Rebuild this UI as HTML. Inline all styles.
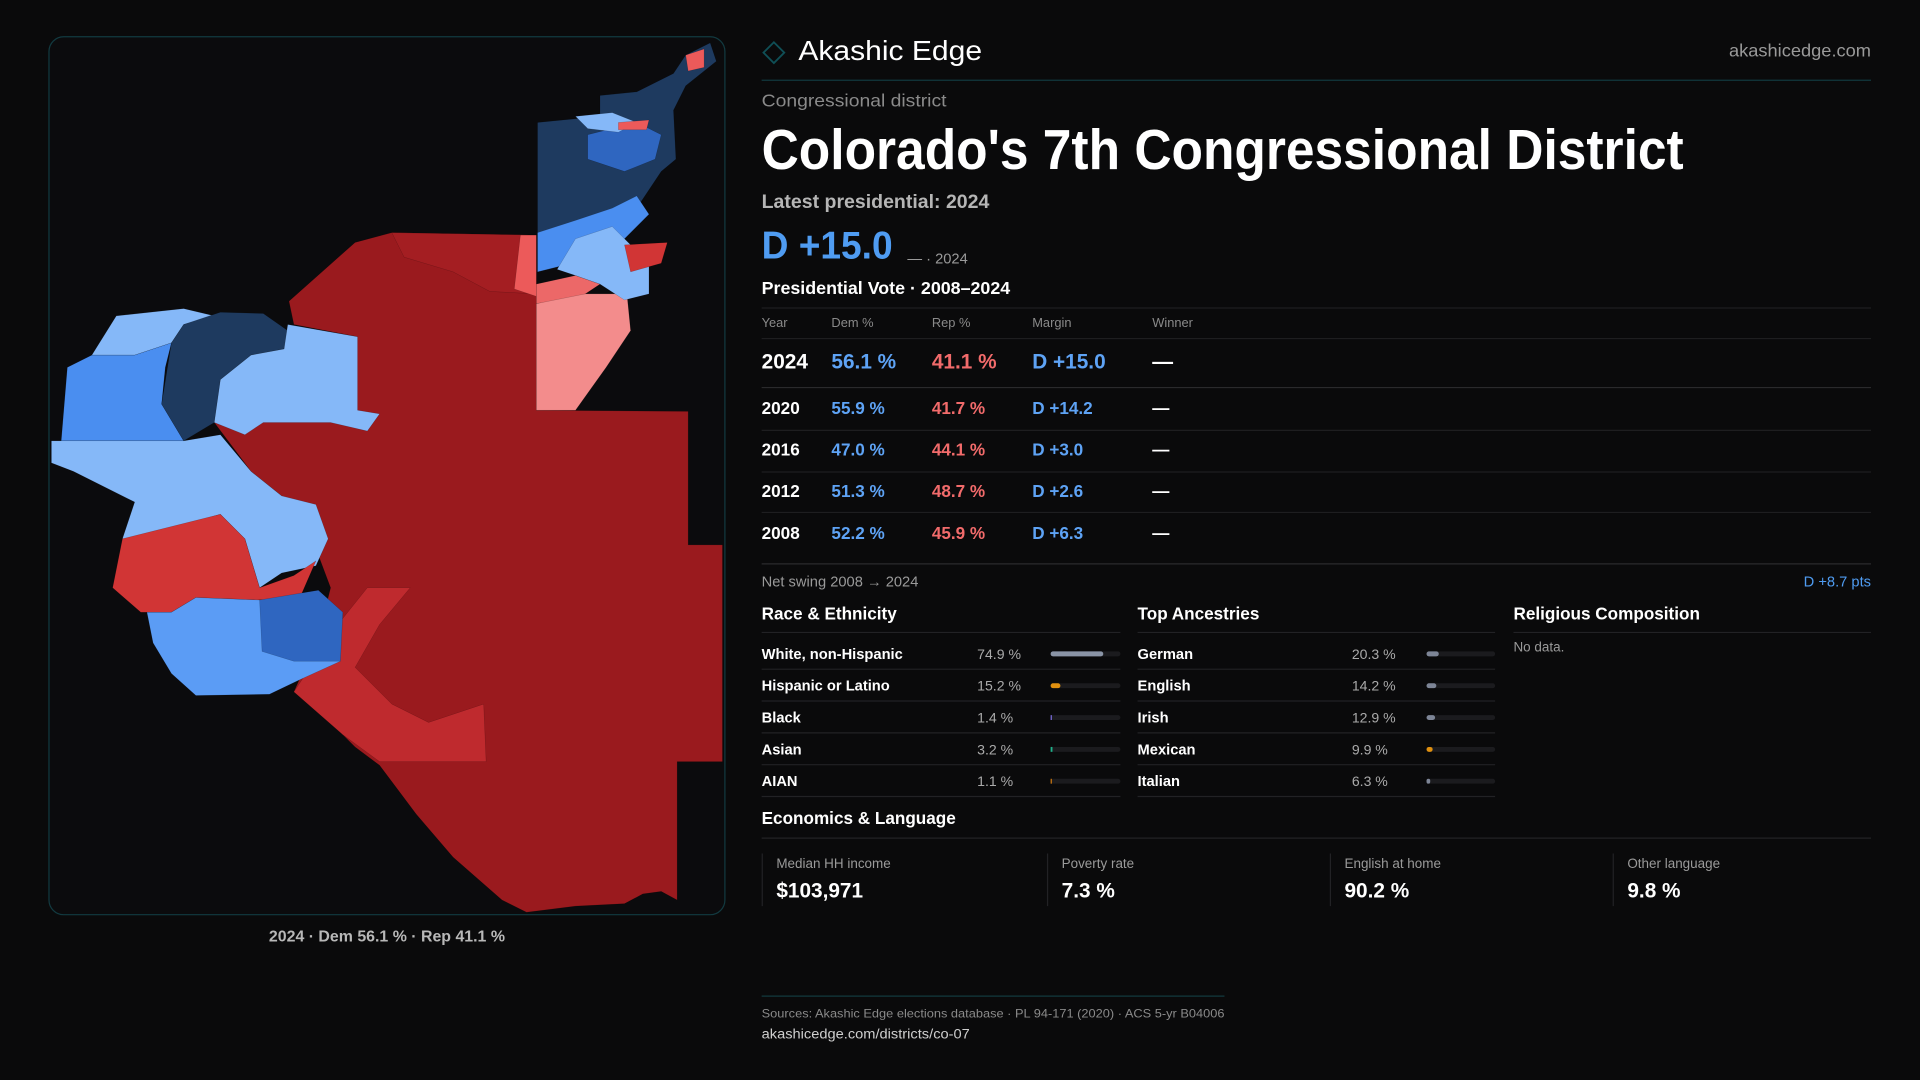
<!DOCTYPE html>
<html><head><meta charset="utf-8"><style>html,body{margin:0;padding:0;background:#0a0a0b;}svg{display:block}text{font-family:"Liberation Sans",sans-serif}</style></head>
<body>
<svg width="1920" height="1080" viewBox="0 0 1568 882" xmlns="http://www.w3.org/2000/svg">
<rect width="1568" height="882" fill="#0a0a0b"/>
<rect x="40" y="30" width="552" height="717" rx="12" fill="#0b0b0d" stroke="#123a40" stroke-width="1"/>
<!-- map -->
<g stroke="rgba(0,0,0,0.25)" stroke-width="0.4">
<polygon fill="#9a1a1e" points="236,246 290,198 320,190 438,192 438,335 562,336 562,445 590,445 590,622 553,622 553,735 540,728 525,730 510,738 470,740 430,745 410,735 370,700 340,665 310,625 290,610 260,580 240,565 260,520 270,480 255,440 230,405 205,385 175,345 195,330 240,330 280,310 292,275 240,265"/>
<polygon fill="#a41e22" points="320,190 438,192 438,240 400,238 370,222 330,210"/>
<polygon fill="#bf2a2e" points="240,565 280,505 300,480 335,480 310,510 290,545 320,575 350,590 395,575 397,622 310,622 280,600"/>
<polygon fill="#ec5a5a" points="425,192 438,192 438,242 420,236"/>
<polygon fill="#f38c8c" points="438,248 470,240 512,240 515,270 495,300 470,335 438,335"/>
<polygon fill="#ec6868" points="438,232 470,225 490,232 478,240 438,248"/>
<polygon fill="#1e3a5f" points="439,100 490,95 490,78 520,75 550,60 560,45 580,35 585,50 560,70 550,90 552,130 540,140 520,170 510,190 480,205 439,212"/>
<polygon fill="#4a8ef0" points="439,190 470,180 500,170 520,160 530,175 510,195 480,210 455,218 439,222"/>
<polygon fill="#85b8f8" points="470,195 500,185 515,200 530,215 530,240 510,245 490,232 470,225 455,220"/>
<polygon fill="#2f66c0" points="480,110 520,100 540,110 535,130 510,140 480,130"/>
<polygon fill="#85b8f8" points="470,95 500,92 520,100 505,108 480,105"/>
<polygon fill="#d13535" points="510,200 545,198 540,215 515,222"/>
<polygon fill="#ec5a5a" points="505,100 530,98 528,106 505,106"/>
<polygon fill="#ec5a5a" points="560,45 575,40 575,55 562,58"/>
<polygon fill="#85b8f8" points="75,290 95,258 150,252 175,258 150,265 140,280 110,290"/>
<polygon fill="#4a8ef0" points="50,360 55,300 75,290 110,290 140,280 135,300 132,330 150,360"/>
<polygon fill="#1e3a5f" points="140,280 150,265 180,255 215,256 235,270 232,285 205,290 180,310 175,345 150,360 132,330"/>
<polygon fill="#85b8f8" points="180,310 205,290 232,285 235,265 292,275 292,335 310,338 300,352 270,345 215,345 200,355 175,345"/>
<polygon fill="#85b8f8" points="42,360 150,360 180,355 205,385 230,405 258,412 268,440 258,462 230,468 212,480 200,440 180,420 110,440 100,440 110,410 60,385 42,378"/>
<polygon fill="#d13535" points="92,480 100,440 180,420 200,440 212,480 240,470 258,458 245,488 210,490 160,488 140,500 115,500"/>
<polygon fill="#5b9cf5" points="120,500 140,500 160,488 212,490 240,490 278,505 278,540 245,555 220,567 160,568 140,550 125,525"/>
<polygon fill="#2f66c0" points="212,490 260,482 280,500 278,540 240,540 214,532"/>
</g>
<text x="316" y="769" text-anchor="middle" font-size="13" font-weight="bold" fill="#b8b8b8">2024 · Dem 56.1 % · Rep 41.1 %</text>

<!-- header -->
<rect x="626" y="37" width="12" height="12" transform="rotate(45 632 43)" fill="none" stroke="#0f4f56" stroke-width="1.5"/>
<text x="652" y="49" font-size="23" fill="#fff" textLength="150" lengthAdjust="spacingAndGlyphs">Akashic Edge</text>
<text x="1528" y="46" font-size="14" fill="#9a9a9a" text-anchor="end" textLength="116" lengthAdjust="spacingAndGlyphs">akashicedge.com</text>
<line x1="622" y1="65.5" x2="1528" y2="65.5" stroke="#12393e"/>
<text x="622" y="87" font-size="14" fill="#8a8a8a" textLength="151" lengthAdjust="spacingAndGlyphs">Congressional district</text>
<text x="622" y="138" font-size="46" font-weight="bold" fill="#fff" textLength="753" lengthAdjust="spacingAndGlyphs">Colorado's  7th Congressional District</text>
<text x="622" y="170" font-size="16" font-weight="bold" fill="#b5b5b5" textLength="186" lengthAdjust="spacingAndGlyphs">Latest presidential: 2024</text>
<text x="622" y="211" font-size="32" font-weight="bold" fill="#4f9cf2" textLength="107" lengthAdjust="spacingAndGlyphs">D +15.0</text>
<text x="741" y="215" font-size="12" fill="#9a9a9a">— · 2024</text>
<text x="622" y="240" font-size="14" font-weight="bold" fill="#fff" textLength="203" lengthAdjust="spacingAndGlyphs">Presidential Vote · 2008–2024</text>
<g stroke="#1e1e20"><line x1="622" y1="251.5" x2="1528" y2="251.5"/><line x1="622" y1="276.5" x2="1528" y2="276.5"/><line x1="622" y1="316.5" x2="1528" y2="316.5" stroke="#2a2a2c"/><line x1="622" y1="351.5" x2="1528" y2="351.5"/><line x1="622" y1="385.5" x2="1528" y2="385.5"/><line x1="622" y1="418.5" x2="1528" y2="418.5"/><line x1="622" y1="460.5" x2="1528" y2="460.5" stroke="#2a2a2c"/></g>
<g font-size="10.5" fill="#8a8a8a"><text x="622" y="267">Year</text><text x="679" y="267">Dem %</text><text x="761" y="267">Rep %</text><text x="843" y="267">Margin</text><text x="941" y="267">Winner</text></g>
<g font-size="17" font-weight="bold"><text x="622" y="301" fill="#fff">2024</text><text x="679" y="301" fill="#5ea3f5">56.1 %</text><text x="761" y="301" fill="#f26b6b">41.1 %</text><text x="843" y="301" fill="#5ea3f5">D +15.0</text><text x="941" y="301" fill="#fff">—</text></g>
<g font-size="14" font-weight="bold">
<text x="622" y="338" fill="#fff">2020</text><text x="679" y="338" fill="#5ea3f5">55.9 %</text><text x="761" y="338" fill="#f26b6b">41.7 %</text><text x="843" y="338" fill="#5ea3f5">D +14.2</text><text x="941" y="338" fill="#fff">—</text>
<text x="622" y="372" fill="#fff">2016</text><text x="679" y="372" fill="#5ea3f5">47.0 %</text><text x="761" y="372" fill="#f26b6b">44.1 %</text><text x="843" y="372" fill="#5ea3f5">D +3.0</text><text x="941" y="372" fill="#fff">—</text>
<text x="622" y="406" fill="#fff">2012</text><text x="679" y="406" fill="#5ea3f5">51.3 %</text><text x="761" y="406" fill="#f26b6b">48.7 %</text><text x="843" y="406" fill="#5ea3f5">D +2.6</text><text x="941" y="406" fill="#fff">—</text>
<text x="622" y="440" fill="#fff">2008</text><text x="679" y="440" fill="#5ea3f5">52.2 %</text><text x="761" y="440" fill="#f26b6b">45.9 %</text><text x="843" y="440" fill="#5ea3f5">D +6.3</text><text x="941" y="440" fill="#fff">—</text>
</g>
<text x="622" y="479" font-size="12" fill="#9a9a9a">Net swing 2008 → 2024</text>
<text x="1528" y="479" font-size="12" fill="#4f9cf2" text-anchor="end">D +8.7 pts</text>

<g font-size="14" font-weight="bold" fill="#fff"><text x="622" y="506">Race &amp; Ethnicity</text><text x="929" y="506">Top Ancestries</text><text x="1236" y="506">Religious Composition</text></g>
<g stroke="#222225"><line x1="622" y1="516.5" x2="915" y2="516.5"/><line x1="929" y1="516.5" x2="1221" y2="516.5"/><line x1="1236" y1="516.5" x2="1528" y2="516.5"/>
<line x1="622" y1="546.5" x2="915" y2="546.5"/><line x1="622" y1="572.5" x2="915" y2="572.5"/><line x1="622" y1="598.5" x2="915" y2="598.5"/><line x1="622" y1="624.5" x2="915" y2="624.5"/><line x1="622" y1="650.5" x2="915" y2="650.5"/>
<line x1="929" y1="546.5" x2="1221" y2="546.5"/><line x1="929" y1="572.5" x2="1221" y2="572.5"/><line x1="929" y1="598.5" x2="1221" y2="598.5"/><line x1="929" y1="624.5" x2="1221" y2="624.5"/><line x1="929" y1="650.5" x2="1221" y2="650.5"/></g>
<g font-size="12" font-weight="bold" fill="#fff"><text x="622" y="538">White, non-Hispanic</text><text x="622" y="564">Hispanic or Latino</text><text x="622" y="590">Black</text><text x="622" y="616">Asian</text><text x="622" y="642">AIAN</text>
<text x="929" y="538">German</text><text x="929" y="564">English</text><text x="929" y="590">Irish</text><text x="929" y="616">Mexican</text><text x="929" y="642">Italian</text></g>
<g font-size="11.5" fill="#aaa"><text x="798" y="538">74.9 %</text><text x="798" y="564">15.2 %</text><text x="798" y="590">1.4 %</text><text x="798" y="616">3.2 %</text><text x="798" y="642">1.1 %</text>
<text x="1104" y="538">20.3 %</text><text x="1104" y="564">14.2 %</text><text x="1104" y="590">12.9 %</text><text x="1104" y="616">9.9 %</text><text x="1104" y="642">6.3 %</text></g>
<g fill="#1b1b1e"><rect x="858" y="532" width="57" height="4" rx="2"/><rect x="858" y="558" width="57" height="4" rx="2"/><rect x="858" y="584" width="57" height="4" rx="2"/><rect x="858" y="610" width="57" height="4" rx="2"/><rect x="858" y="636" width="57" height="4" rx="2"/>
<rect x="1165" y="532" width="56" height="4" rx="2"/><rect x="1165" y="558" width="56" height="4" rx="2"/><rect x="1165" y="584" width="56" height="4" rx="2"/><rect x="1165" y="610" width="56" height="4" rx="2"/><rect x="1165" y="636" width="56" height="4" rx="2"/></g>
<rect x="858" y="532" width="43" height="4" rx="2" fill="#8a94a6"/><rect x="858" y="558" width="8" height="4" rx="2" fill="#e0900f"/><rect x="858" y="584" width="1" height="4" fill="#7c6ee0"/><rect x="858" y="610" width="1.5" height="4" fill="#20b08a"/><rect x="858" y="636" width="1" height="4" fill="#d07a10"/>
<rect x="1165" y="532" width="10" height="4" rx="2" fill="#7d8596"/><rect x="1165" y="558" width="8" height="4" rx="2" fill="#7d8596"/><rect x="1165" y="584" width="7" height="4" rx="2" fill="#7d8596"/><rect x="1165" y="610" width="5" height="4" rx="2" fill="#e0900f"/><rect x="1165" y="636" width="3" height="4" rx="1.5" fill="#7d8596"/>
<text x="1236" y="532" font-size="11" fill="#9a9a9a">No data.</text>

<text x="622" y="673" font-size="14" font-weight="bold" fill="#fff">Economics &amp; Language</text>
<line x1="622" y1="684.5" x2="1528" y2="684.5" stroke="#222225"/>
<g stroke="#222225"><line x1="622.5" y1="697" x2="622.5" y2="740"/><line x1="855.5" y1="697" x2="855.5" y2="740"/><line x1="1086.5" y1="697" x2="1086.5" y2="740"/><line x1="1317.5" y1="697" x2="1317.5" y2="740"/></g>
<g font-size="11" fill="#9a9a9a"><text x="634" y="709">Median HH income</text><text x="867" y="709">Poverty rate</text><text x="1098" y="709">English at home</text><text x="1329" y="709">Other language</text></g>
<g font-size="17" font-weight="bold" fill="#fff"><text x="634" y="733">$103,971</text><text x="867" y="733">7.3 %</text><text x="1098" y="733">90.2 %</text><text x="1329" y="733">9.8 %</text></g>

<line x1="622" y1="813.5" x2="1000" y2="813.5" stroke="#12393e"/>
<text x="622" y="831" font-size="10" fill="#8a8a8a" textLength="378" lengthAdjust="spacingAndGlyphs">Sources: Akashic Edge elections database · PL 94-171 (2020) · ACS 5-yr B04006</text>
<text x="622" y="848" font-size="11" fill="#cfcfcf" textLength="170" lengthAdjust="spacingAndGlyphs">akashicedge.com/districts/co-07</text>
</svg>
</body></html>
